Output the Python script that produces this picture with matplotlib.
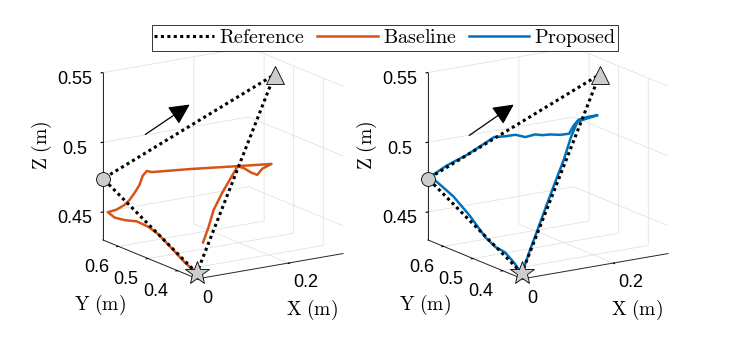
import matplotlib
matplotlib.use('Agg')
import matplotlib.pyplot as plt
from matplotlib.lines import Line2D

plt.rcParams['font.family'] = ['Liberation Sans', 'DejaVu Sans']
plt.rcParams['mathtext.fontset'] = 'cm'
plt.rcParams['grid.color'] = '#e0e0e0'
plt.rcParams['grid.linewidth'] = 0.55
plt.rcParams['axes.linewidth'] = 0.7

C_BASE = '#D95319'
C_PROP = '#0072BD'

# reference path: start (star) -> circle -> triangle -> start
ref_x = [0.0, 0.0, 0.258, 0.0]
ref_y = [0.335, 0.652, 0.469, 0.335]
ref_z = [0.434, 0.474, 0.550, 0.434]

# baseline trajectory
base_x = [0.0, 0.0, 0.0, 0.0, 0.0, 0.0, 0.0, 0.0, 0.0, 0.0, 0.0,
          0.0044, 0.0157, 0.0278, 0.0394, 0.0479, 0.0515, 0.0902, 0.1368,
          0.1718, 0.1587, 0.1484, 0.1448, 0.1422, 0.1378, 0.1170, 0.0981,
          0.0744, 0.0536, 0.0345]
base_y = [0.343, 0.373, 0.415, 0.465, 0.498, 0.538, 0.580, 0.613, 0.636,
          0.607, 0.580, 0.570, 0.570, 0.572, 0.579, 0.578, 0.567, 0.498,
          0.411, 0.347, 0.358, 0.359, 0.374, 0.393, 0.409, 0.405, 0.401,
          0.393, 0.378, 0.367]
base_z = [0.4349, 0.4376, 0.4436, 0.4504, 0.4528, 0.4533, 0.4506, 0.4495,
          0.4513, 0.4557, 0.4614, 0.4655, 0.4700, 0.4748, 0.4801, 0.4833,
          0.4832, 0.4892, 0.4962, 0.5014, 0.4978, 0.4939, 0.4944, 0.4959,
          0.4963, 0.4877, 0.4799, 0.4698, 0.4600, 0.4512]

# proposed trajectory
prop_x = [0.0, 0.0, 0.0, 0.0, 0.0, 0.0, 0.0, 0.0, 0.0,
          0.0297, 0.0586, 0.0820, 0.1007, 0.1117, 0.1218, 0.1305, 0.1411,
          0.1480, 0.1548, 0.1654, 0.1741, 0.1855, 0.1959, 0.2070, 0.2181,
          0.2032, 0.1930, 0.1731, 0.1445, 0.1146, 0.0837, 0.0542, 0.0285,
          0.0095]
prop_y = [0.343, 0.359, 0.392, 0.425, 0.458, 0.511, 0.567, 0.628, 0.652,
          0.634, 0.610, 0.595, 0.583, 0.563, 0.544, 0.524, 0.507, 0.494,
          0.477, 0.460, 0.443, 0.446, 0.445, 0.432, 0.415, 0.433, 0.444,
          0.435, 0.416, 0.400, 0.383, 0.366, 0.352, 0.340]
prop_z = [0.4349, 0.4387, 0.4439, 0.4449, 0.4488, 0.4597, 0.4688, 0.4748,
          0.4744, 0.4834, 0.4915, 0.4985, 0.5042, 0.5058, 0.5080, 0.5076,
          0.5104, 0.5106, 0.5122, 0.5128, 0.5146, 0.5194, 0.5232, 0.5257,
          0.5278, 0.5244, 0.5220, 0.5131, 0.4997, 0.4862, 0.4721, 0.4587,
          0.4470, 0.4382]

xlim = (0.0, 0.32)
ylim = (0.333, 0.653)
zlim = (0.43, 0.55)
xticks = [0, 0.2]
yticks = [0.4, 0.5, 0.6]
zticks = [0.45, 0.5, 0.55]
xticklabels = ['0', '0.2']
yticklabels = ['0.4', '0.5', '0.6']
zticklabels = ['0.45', '0.5', '0.55']

fig = plt.figure(figsize=(7.37, 3.40), dpi=100)

W, H = 737.0, 340.0
size = 292.0
centers = [(219.0, 167.0), (544.0, 167.0)]
runs = [(base_x, base_y, base_z, C_BASE), (prop_x, prop_y, prop_z, C_PROP)]

for k, (cx, cy) in enumerate(centers):
    ax = fig.add_axes([(cx - size / 2) / W, 1 - (cy + size / 2) / H,
                       size / W, size / H], projection='3d',
                      proj_type='ortho', computed_zorder=False)
    ax.view_init(elev=15.5, azim=-123)
    ax.set_box_aspect((1, 1, 1))
    ax.set_xlim(*xlim)
    ax.set_ylim(*ylim)
    ax.set_zlim(*zlim)
    ax.set_xticks(xticks, xticklabels)
    ax.set_yticks(yticks, yticklabels)
    ax.set_zticks(zticks, zticklabels)
    ax.tick_params(labelsize=13, pad=0)
    ax.tick_params(axis='x', pad=-2)
    ax.tick_params(axis='y', pad=-1)
    ax.tick_params(axis='z', pad=5)
    for lab in ax.xaxis.get_majorticklabels():
        lab.set_horizontalalignment('left')
    for lab in ax.yaxis.get_majorticklabels():
        lab.set_horizontalalignment('right')
        lab.set_verticalalignment('top')
    for axis in (ax.xaxis, ax.yaxis, ax.zaxis):
        axis.set_pane_color((1, 1, 1, 0))
        axis._axinfo['tick']['inward_factor'] = 0.15
        axis._axinfo['tick']['outward_factor'] = 0.0
        axis.line.set_color('#262626')

    bx, by, bz, col = runs[k]
    ax.plot(bx, by, bz, color=col, lw=1.8, zorder=2)
    ax.plot(ref_x, ref_y, ref_z, color='k', lw=2.2, ls=(0, (1, 1.1)), zorder=3)
    ax.plot(ref_x[1:2], ref_y[1:2], ref_z[1:2], marker='o', ms=10,
            mfc='#cccccc', mec='k', mew=0.6, ls='none', zorder=4)
    ax.plot(ref_x[2:3], ref_y[2:3], ref_z[2:3], marker='^', ms=13,
            mfc='#cccccc', mec='k', mew=0.6, ls='none', zorder=4)
    ax.plot(ref_x[0:1], ref_y[0:1], ref_z[0:1], marker='*', ms=18,
            mfc='#cccccc', mec='k', mew=0.6, ls='none', zorder=4)

# direction arrows (figure pixels)
arrows = [((143, 136), (192, 103)), ((467, 137), (516, 103))]
for (x0, y0), (x1, y1) in arrows:
    fig.add_artist(matplotlib.patches.FancyArrowPatch(
        (x0 / W, 1 - y0 / H), (x1 / W, 1 - y1 / H), transform=fig.transFigure,
        arrowstyle='-|>,head_length=0.7,head_width=0.35', mutation_scale=18,
        lw=0.9, color='k'))

# axis labels (figure pixels)
label_pos = [((312, 310), (100, 305), (42, 145)),
             ((637, 310), (425, 305), (367, 145))]
for (xl, yl, zl) in label_pos:
    fig.text(xl[0] / W, 1 - xl[1] / H, r'$\mathrm{X\ (m)}$', fontsize=14,
             ha='center', va='center')
    fig.text(yl[0] / W, 1 - yl[1] / H, r'$\mathrm{Y\ (m)}$', fontsize=14,
             ha='center', va='center')
    fig.text(zl[0] / W, 1 - zl[1] / H, r'$\mathrm{Z\ (m)}$', fontsize=14,
             ha='center', va='center', rotation=90)

handles = [Line2D([], [], color='k', lw=2.2, ls=(0, (1, 1.1))),
           Line2D([], [], color=C_BASE, lw=1.8),
           Line2D([], [], color=C_PROP, lw=1.8)]
labels = [r'$\mathrm{Reference}$', r'$\mathrm{Baseline}$', r'$\mathrm{Proposed}$']
leg = fig.legend(handles, labels, loc='center', bbox_to_anchor=(385 / W, 1 - 38 / H),
                 ncol=3, fontsize=14.5, frameon=True, fancybox=False,
                 edgecolor='k', handlelength=3.0, handletextpad=0.25,
                 columnspacing=0.6, borderpad=0.1, borderaxespad=0)
leg.get_frame().set_linewidth(0.7)

fig.savefig('out.png', dpi=100)
